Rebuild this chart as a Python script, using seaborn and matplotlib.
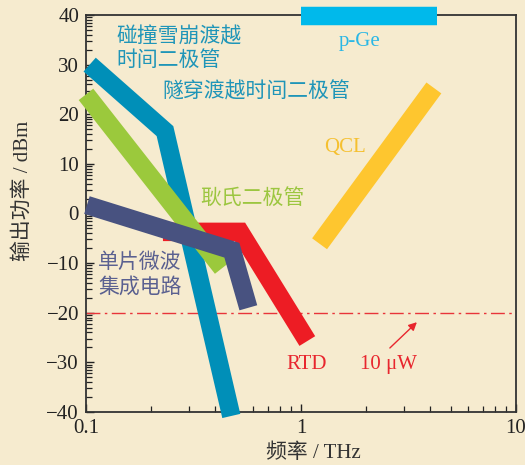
import numpy as np
import pandas as pd
import matplotlib
matplotlib.use("Agg")
import matplotlib.pyplot as plt
from matplotlib.ticker import FixedLocator, NullFormatter
import seaborn as sns

# THz source output power versus frequency
impatt_f = [0.104, 0.233, 0.474]
impatt_p = [30.0, 16.6, -40.8]
gunn_f = [0.1, 0.43]
gunn_p = [24.0, -11.0]
mmic_f = [0.101, 0.477, 0.569]
mmic_p = [1.7, -7.4, -19.0]
rtd_f = [0.228, 0.52, 1.07]
rtd_p = [-3.7, -3.7, -25.7]
qcl_f = [1.22, 4.15]
qcl_p = [-6.1, 25.3]
pge_f = [1.0, 4.3]
pge_p = [39.7, 39.7]
ref_level = -20  # 10 uW

x_ticks = [0.1, 1, 10]
x_tick_labels = ["0.1", "1", "10"]
y_ticks = [-40, -30, -20, -10, 0, 10, 20, 30, 40]

sns.set_theme(style="ticks")
FONT = ["Liberation Serif", "Noto Sans CJK SC"]
plt.rcParams["font.family"] = FONT

BG = "#f6ebcf"
C_IMPATT = "#008fb8"
C_GUNN = "#9bc93c"
C_MMIC = "#485280"
C_RTD = "#ed1c24"
C_QCL = "#fec62f"
C_PGE = "#00b9eb"

fig = plt.figure(figsize=(5.25, 4.65), dpi=100, facecolor=BG)
ax = fig.add_axes([86 / 525, 1 - 412 / 465, 430 / 525, 397 / 465])
ax.set_facecolor(BG)
ax.set_xscale("log")

series = [
    ("rtd", rtd_f, rtd_p, C_RTD),
    ("impatt", impatt_f, impatt_p, C_IMPATT),
    ("gunn", gunn_f, gunn_p, C_GUNN),
    ("mmic", mmic_f, mmic_p, C_MMIC),
    ("qcl", qcl_f, qcl_p, C_QCL),
    ("pge", pge_f, pge_p, C_PGE),
]
for name, f, p, c in series:
    df = pd.DataFrame({"f": f, "p": p})
    sns.lineplot(data=df, x="f", y="p", ax=ax, color=c, lw=13.3,
                 sort=False, estimator=None, solid_joinstyle="miter",
                 solid_capstyle="butt", clip_on=False, zorder=3)

ax.axhline(ref_level, color="#e8343a", lw=1.0, dashes=(10, 3.2, 1.8, 3.2),
           zorder=2)

ax.set_xlim(0.1, 10)
ax.set_ylim(-40, 40)
ax.set_xlabel("")
ax.set_ylabel("")

ax.xaxis.set_major_locator(FixedLocator(x_ticks))
ax.set_xticklabels(x_tick_labels)
minor_x = [k * 10.0 ** d for d in (-1, 0) for k in range(2, 10)]
ax.xaxis.set_minor_locator(FixedLocator(minor_x))
ax.xaxis.set_minor_formatter(NullFormatter())

ax.yaxis.set_major_locator(FixedLocator(y_ticks))
minor_y = [b + 10 * np.log10(k) for b in y_ticks[:-1] for k in range(2, 10)]
ax.yaxis.set_minor_locator(FixedLocator(minor_y))

ax.tick_params(which="both", direction="in", top=False, right=False,
               colors="#222222", labelsize=15, pad=5)
ax.tick_params(which="major", length=6, width=1.0)
ax.tick_params(which="minor", length=4, width=0.9)
for s in ax.spines.values():
    s.set_color("#333333")
    s.set_linewidth(1.3)
    s.set_zorder(2)

fig.text(23 / 525, 1 - 191 / 465, "输出功率 / dBm", rotation=90,
         ha="center", va="center", fontsize=15, color="#333333")
fig.text(313 / 525, 1 - 453 / 465, "频率 / THz", ha="center",
         va="center", fontsize=15, color="#333333")

tkw = dict(fontsize=15, zorder=5)
ax.text(0.139, 35.4, "碰撞雪崩渡越", color="#1f95b8", ha="left",
        va="center", **tkw)
ax.text(0.139, 30.7, "时间二极管", color="#1f95b8", ha="left",
        va="center", **tkw)
ax.text(0.2256, 24.5, "隧穿渡越时间二极管", color="#1f95b8", ha="left",
        va="center", **tkw)
ax.text(1.88, 34.7, "p-Ge", color="#2ab7e5", ha="center", va="center", **tkw)
ax.text(1.60, 13.2, "QCL", color="#f5c030", ha="center", va="center", **tkw)
ax.text(0.339, 2.9, "耿氏二极管", color="#9cc640", ha="left", va="center",
        **tkw)
ax.text(0.1137, -10.0, "单片微波", color="#5a6090", ha="left", va="center",
        **tkw)
ax.text(0.1137, -15.0, "集成电路", color="#5a6090", ha="left", va="center",
        **tkw)
ax.text(1.067, -30.5, "RTD", color="#e8262e", ha="center", va="center",
        **tkw)
ax.text(2.54, -30.5, "10 μW", color="#e8262e", ha="center", va="center",
        **tkw)
ax.annotate("", xy=(3.46, -21.9), xytext=(2.59, -27.1),
            arrowprops=dict(arrowstyle="-|>", color="#e8262e", lw=1.0,
                            mutation_scale=12, shrinkA=0, shrinkB=0))

fig.savefig("out.png", dpi=100, facecolor=BG)
